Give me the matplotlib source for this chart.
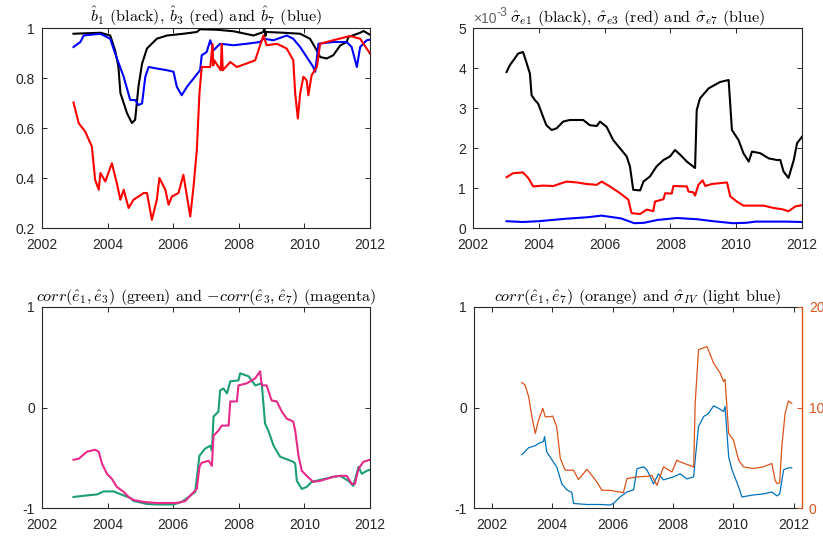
import matplotlib
matplotlib.use("Agg")
import matplotlib.pyplot as plt
import numpy as np

plt.rcParams['font.family'] = ['Liberation Sans', 'DejaVu Sans']
plt.rcParams['mathtext.fontset'] = 'cm'
plt.rcParams['axes.unicode_minus'] = False

# ---------------- data ----------------
# Panel 1: b1 (black), b3 (red), b7 (blue)
b1_t = [2002.96, 2003.78, 2004.08, 2004.23, 2004.33, 2004.39, 2004.59, 2004.74, 2004.84, 2004.94,
        2005.05, 2005.2, 2005.5, 2005.81, 2006.31, 2006.72, 2006.82, 2007.33, 2007.84, 2008.45,
        2008.75, 2008.78, 2008.81, 2008.84, 2009.36, 2009.87, 2010.17, 2010.38, 2010.48, 2010.68,
        2010.88, 2011.09, 2011.29, 2011.34, 2011.7, 2011.8, 2012.0]
b1_v = [0.977, 0.981, 0.97, 0.91, 0.845, 0.74, 0.66, 0.62, 0.633, 0.765,
        0.857, 0.918, 0.957, 0.97, 0.977, 0.984, 0.995, 0.993, 0.987, 0.97,
        0.984, 1.0, 0.968, 0.984, 0.981, 0.977, 0.957, 0.91, 0.884, 0.878,
        0.891, 0.93, 0.944, 0.964, 0.981, 0.988, 0.973]

b7_t = [2002.96, 2003.17, 2003.27, 2003.78, 2004.08, 2004.23, 2004.49, 2004.69, 2004.84, 2004.94,
        2005.05, 2005.15, 2005.25, 2005.5, 2005.81, 2006.01, 2006.11, 2006.26, 2006.42, 2006.62,
        2006.82, 2006.87, 2007.02, 2007.13, 2007.23, 2007.43, 2007.84, 2008.24, 2008.65, 2008.75,
        2009.06, 2009.46, 2009.66, 2009.87, 2010.07, 2010.27, 2010.33, 2010.43, 2010.88, 2011.29,
        2011.44, 2011.6, 2011.7, 2011.9, 2012.0]
b7_v = [0.924, 0.944, 0.97, 0.977, 0.957, 0.898, 0.805, 0.712, 0.712, 0.692,
        0.698, 0.805, 0.844, 0.838, 0.831, 0.825, 0.765, 0.731, 0.765, 0.798,
        0.831, 0.891, 0.904, 0.951, 0.911, 0.937, 0.931, 0.937, 0.944, 0.957,
        0.951, 0.97, 0.957, 0.924, 0.884, 0.844, 0.825, 0.937, 0.944, 0.944,
        0.924, 0.844, 0.924, 0.951, 0.953]

b3_t = [2002.96, 2003.12, 2003.32, 2003.52, 2003.62, 2003.73, 2003.78, 2003.93, 2004.13, 2004.28,
        2004.39, 2004.49, 2004.64, 2004.79, 2004.94, 2005.1, 2005.2, 2005.35, 2005.5, 2005.58,
        2005.76, 2005.86, 2005.96, 2006.16, 2006.31, 2006.42, 2006.52, 2006.62, 2006.72, 2006.8,
        2006.87, 2007.13, 2007.2, 2007.22, 2007.25, 2007.45, 2007.48, 2007.51, 2007.74, 2007.94,
        2008.24, 2008.5, 2008.6, 2008.75, 2008.85, 2009.16, 2009.46, 2009.66, 2009.72, 2009.8,
        2009.87, 2009.97, 2010.07, 2010.12, 2010.22, 2010.38, 2010.48, 2010.88, 2011.39, 2011.7,
        2012.0]
b3_v = [0.702, 0.619, 0.585, 0.526, 0.393, 0.353, 0.42, 0.386, 0.459, 0.38,
        0.313, 0.353, 0.28, 0.313, 0.326, 0.34, 0.34, 0.233, 0.313, 0.4,
        0.353, 0.293, 0.326, 0.34, 0.413, 0.326, 0.246, 0.366, 0.512, 0.738,
        0.844, 0.844, 0.936, 0.85, 0.871, 0.831, 0.936, 0.831, 0.864, 0.844,
        0.858, 0.871, 0.911, 0.97, 0.931, 0.937, 0.918, 0.871, 0.738, 0.638,
        0.738, 0.805, 0.791, 0.731, 0.811, 0.844, 0.937, 0.951, 0.968, 0.957,
        0.898]

# Panel 2: sigma_e1 (black), sigma_e3 (red), sigma_e7 (blue), units 1e-3
s1_t = [2003.02, 2003.12, 2003.27, 2003.37, 2003.52, 2003.62, 2003.73, 2003.78, 2003.88, 2003.98,
        2004.13, 2004.23, 2004.39, 2004.54, 2004.74, 2004.94, 2005.15, 2005.35, 2005.55, 2005.76,
        2005.86, 2006.06, 2006.26, 2006.47, 2006.67, 2006.77, 2006.87, 2007.08, 2007.18, 2007.38,
        2007.58, 2007.79, 2007.99, 2008.14, 2008.3, 2008.5, 2008.75, 2008.8, 2008.9, 2009.16,
        2009.51, 2009.77, 2009.87, 2010.07, 2010.22, 2010.38, 2010.48, 2010.73, 2010.99, 2011.24,
        2011.34, 2011.44, 2011.59, 2011.75, 2011.85, 2012.0]
s1_v = [3.9, 4.07, 4.24, 4.36, 4.4, 4.15, 3.86, 3.32, 3.2, 3.11,
        2.78, 2.57, 2.45, 2.49, 2.66, 2.7, 2.7, 2.7, 2.57, 2.55,
        2.66, 2.53, 2.2, 1.99, 1.79, 1.54, 0.955, 0.94, 1.16, 1.29,
        1.54, 1.7, 1.79, 1.95, 1.83, 1.66, 1.5, 2.95, 3.24, 3.49,
        3.65, 3.7, 2.45, 2.2, 1.87, 1.66, 1.91, 1.87, 1.74, 1.7,
        1.7, 1.41, 1.25, 1.7, 2.12, 2.28]

s3_t = [2003.02, 2003.22, 2003.52, 2003.68, 2003.83, 2004.13, 2004.44, 2004.84, 2005.15, 2005.45,
        2005.76, 2005.91, 2006.16, 2006.47, 2006.72, 2006.82, 2007.08, 2007.28, 2007.48, 2007.53,
        2007.79, 2007.84, 2008.04, 2008.09, 2008.5, 2008.55, 2008.7, 2008.75, 2008.85, 2008.98,
        2009.06, 2009.26, 2009.72, 2009.82, 2010.02, 2010.22, 2010.53, 2010.83, 2011.14, 2011.39,
        2011.59, 2011.8, 2012.0]
s3_v = [1.27, 1.37, 1.39, 1.25, 1.04, 1.06, 1.05, 1.16, 1.14, 1.1,
        1.08, 1.16, 1.04, 0.87, 0.71, 0.37, 0.35, 0.46, 0.42, 0.66,
        0.72, 0.87, 0.86, 1.05, 1.04, 0.91, 0.89, 0.81, 1.08, 1.19,
        1.05, 1.1, 1.14, 0.79, 0.66, 0.56, 0.56, 0.56, 0.5, 0.47,
        0.42, 0.54, 0.57]

s7_t = [2003.02, 2003.5, 2004.0, 2004.8, 2005.5, 2005.9, 2006.5, 2006.9, 2007.2, 2007.6,
        2008.2, 2008.8, 2009.3, 2009.9, 2010.3, 2010.6, 2011.5, 2012.0]
s7_v = [0.17, 0.15, 0.17, 0.23, 0.27, 0.31, 0.24, 0.12, 0.13, 0.2,
        0.25, 0.22, 0.17, 0.12, 0.13, 0.16, 0.16, 0.15]

# Panel 3: corr(e1,e3) (green) and -corr(e3,e7) (magenta)
mg_t = [2002.96, 2003.12, 2003.37, 2003.62, 2003.73, 2003.83, 2003.98, 2004.13, 2004.28, 2004.49,
        2004.64, 2004.79, 2005.1, 2005.5, 2005.81, 2006.11, 2006.37, 2006.57, 2006.72, 2006.8,
        2006.87, 2007.08, 2007.18, 2007.23, 2007.38, 2007.48, 2007.69, 2007.74, 2007.94, 2007.99,
        2008.24, 2008.5, 2008.65, 2008.7, 2008.85, 2009.0, 2009.16, 2009.31, 2009.46, 2009.66,
        2009.72, 2009.82, 2009.92, 2010.07, 2010.27, 2010.48, 2010.88, 2011.09, 2011.29, 2011.44,
        2011.54, 2011.65, 2011.8, 2012.0]
mg_v = [-0.52, -0.51, -0.44, -0.42, -0.44, -0.56, -0.66, -0.71, -0.79, -0.84,
        -0.89, -0.92, -0.94, -0.95, -0.95, -0.95, -0.93, -0.86, -0.81, -0.59,
        -0.55, -0.53, -0.58, -0.28, -0.23, -0.18, -0.18, 0.06, 0.06, 0.22,
        0.24, 0.29, 0.36, 0.22, 0.22, 0.07, 0.06, -0.04, -0.11, -0.14,
        -0.23, -0.48, -0.63, -0.68, -0.74, -0.73, -0.69, -0.68, -0.68, -0.76,
        -0.76, -0.61, -0.54, -0.52]

gr_t = [2002.96, 2003.37, 2003.68, 2003.88, 2004.18, 2004.49, 2004.69, 2004.79, 2005.2, 2005.5,
        2006.01, 2006.26, 2006.47, 2006.67, 2006.8, 2006.97, 2007.13, 2007.18, 2007.23, 2007.38,
        2007.43, 2007.53, 2007.64, 2007.74, 2007.99, 2008.04, 2008.3, 2008.5, 2008.7, 2008.8,
        2008.9, 2009.06, 2009.26, 2009.66, 2009.72, 2009.77, 2009.92, 2010.07, 2010.22, 2010.48,
        2010.88, 2011.09, 2011.34, 2011.49, 2011.65, 2011.75, 2011.9, 2012.0]
gr_v = [-0.89, -0.875, -0.865, -0.835, -0.835, -0.875, -0.9, -0.93, -0.96, -0.965,
        -0.965, -0.94, -0.89, -0.84, -0.48, -0.41, -0.38, -0.43, -0.09, -0.04,
        0.17, 0.19, 0.14, 0.26, 0.27, 0.34, 0.31, 0.22, 0.24, -0.16,
        -0.23, -0.38, -0.49, -0.54, -0.56, -0.73, -0.81, -0.79, -0.74, -0.72,
        -0.69, -0.68, -0.73, -0.78, -0.59, -0.66, -0.63, -0.62]

# Panel 4: corr(e1,e7) (left axis) and sigma_IV (right axis)
c17_t = [2002.99, 2003.1, 2003.22, 2003.44, 2003.6, 2003.71, 2003.75, 2003.82, 2003.99, 2004.15,
         2004.32, 2004.49, 2004.65, 2004.71, 2005.15, 2005.59, 2005.92, 2006.03, 2006.25, 2006.48,
         2006.7, 2006.81, 2007.03, 2007.14, 2007.36, 2007.52, 2007.69, 2008.02, 2008.24, 2008.46,
         2008.69, 2008.74, 2008.85, 2009.02, 2009.18, 2009.35, 2009.51, 2009.68, 2009.73, 2009.85,
         2009.96, 2010.18, 2010.29, 2010.67, 2011.0, 2011.28, 2011.45, 2011.54, 2011.67, 2011.83,
         2011.94]
c17_v = [-0.47, -0.44, -0.4, -0.38, -0.35, -0.34, -0.29, -0.44, -0.52, -0.59,
         -0.76, -0.82, -0.845, -0.955, -0.965, -0.965, -0.97, -0.955, -0.89, -0.84,
         -0.82, -0.61, -0.59, -0.62, -0.76, -0.66, -0.72, -0.69, -0.66, -0.71,
         -0.69, -0.52, -0.19, -0.09, -0.06, 0.017, -0.007, -0.04, 0.01, -0.49,
         -0.62, -0.79, -0.89, -0.87, -0.86, -0.84, -0.88, -0.86, -0.62, -0.6,
         -0.6]

iv_t = [2002.99, 2003.1, 2003.22, 2003.33, 2003.44, 2003.55, 2003.69, 2003.77, 2003.93, 2004.02,
        2004.15, 2004.27, 2004.43, 2004.71, 2004.87, 2005.04, 2005.15, 2005.31, 2005.48, 2005.65,
        2005.92, 2006.2, 2006.36, 2006.48, 2006.81, 2007.19, 2007.3, 2007.47, 2007.69, 2007.97,
        2008.13, 2008.24, 2008.69, 2008.74, 2008.85, 2009.13, 2009.35, 2009.57, 2009.68, 2009.73,
        2009.85, 2010.01, 2010.18, 2010.34, 2010.67, 2010.99, 2011.28, 2011.39, 2011.45, 2011.54,
        2011.61, 2011.72, 2011.83, 2011.94]
iv_v = [12.48, 12.25, 11.08, 9.08, 7.42, 8.75, 9.92, 9.08, 9.08, 9.15,
        8.09, 4.93, 3.76, 3.76, 2.83, 3.43, 3.86, 3.26, 2.6, 1.76,
        1.76, 1.6, 1.53, 2.93, 3.09, 3.16, 3.26, 2.26, 4.09, 3.59,
        4.76, 4.59, 4.09, 10.42, 15.74, 16.07, 14.41, 13.41, 12.58, 12.81,
        7.42, 6.76, 4.76, 4.09, 3.93, 4.09, 4.43, 2.76, 2.43, 2.5,
        6.09, 9.42, 10.65, 10.42]

year_ticks = [2002, 2004, 2006, 2008, 2010, 2012]

# ---------------- figure ----------------
W, H = 823, 541
fig = plt.figure(figsize=(W / 100, H / 100), dpi=100)
AX = '#262626'


def rect(l, t, r, b):
    return [l / W, 1 - b / H, (r - l) / W, (b - t) / H]


def style(ax, right=True):
    for s in ax.spines.values():
        s.set_color(AX)
        s.set_linewidth(0.8)
    ax.tick_params(direction='in', length=3.5, width=0.7, colors=AX, labelcolor=AX,
                   labelsize=10, top=True, right=right)
    ax.tick_params(axis='x', pad=7)
    ax.tick_params(axis='y', pad=5)


TF = dict(family='cmr10', fontsize=11.6, color='black', pad=4)

# Panel 1
ax1 = fig.add_axes(rect(42, 28, 370, 228))
ax1.plot(b1_t, b1_v, color='k', lw=1.5)
ax1.plot(b7_t, b7_v, color='#0000FF', lw=1.5)
ax1.plot(b3_t, b3_v, color='#FF0000', lw=1.5)
ax1.set_xlim(2002, 2012)
ax1.set_ylim(0.2, 1)
ax1.set_xticks(year_ticks)
ax1.set_yticks([0.2, 0.4, 0.6, 0.8, 1.0])
ax1.set_yticklabels(['0.2', '0.4', '0.6', '0.8', '1'])
style(ax1)
ax1.set_title(r"$\hat{b}_1$ (black), $\hat{b}_3$ (red) and $\hat{b}_7$ (blue)", **TF)

# Panel 2
ax2 = fig.add_axes(rect(473, 28, 802, 228))
ax2.plot(s1_t, s1_v, color='k', lw=1.5)
ax2.plot(s3_t, s3_v, color='#FF0000', lw=1.5)
ax2.plot(s7_t, s7_v, color='#0000FF', lw=1.5)
ax2.set_xlim(2002, 2012)
ax2.set_ylim(0, 5)
ax2.set_xticks(year_ticks)
ax2.set_yticks([0, 1, 2, 3, 4, 5])
style(ax2)
ax2.set_title(r"$\hat{\sigma}_{e1}$ (black), $\hat{\sigma}_{e3}$ (red) and $\hat{\sigma}_{e7}$ (blue)",
              **TF)
ax2.text(0.0, 1.012, '×10', transform=ax2.transAxes, fontsize=10, color='#606060',
         ha='left', va='bottom')
ax2.text(0.07, 1.045, '-3', transform=ax2.transAxes, fontsize=9, color='#606060',
         ha='left', va='bottom')

# Panel 3
ax3 = fig.add_axes(rect(42, 307, 370, 508))
ax3.plot(gr_t, gr_v, color='#1B9E77', lw=1.5)
ax3.plot(mg_t, mg_v, color='#E7298A', lw=1.5)
ax3.set_xlim(2002, 2012)
ax3.set_ylim(-1, 1)
ax3.set_xticks(year_ticks)
ax3.set_yticks([-1, 0, 1])
ax3.set_yticklabels(['-1', '0', '1'])
style(ax3)
ax3.set_title(r"$corr(\hat{e}_1,\hat{e}_3)$ (green) and $-corr(\hat{e}_3,\hat{e}_7)$ (magenta)", **TF)

# Panel 4
OR = '#D95319'
ax4 = fig.add_axes(rect(474, 307, 802, 508))
ax4.plot(c17_t, c17_v, color='#0072BD', lw=0.9)
ax4.set_xlim(2001.41, 2012.28)
ax4.set_ylim(-1, 1)
ax4.set_xticks(year_ticks)
ax4.set_yticks([-1, 0, 1])
ax4.set_yticklabels(['-1', '0', '1'])
style(ax4, right=False)
ax4.spines['right'].set_visible(False)
ax4b = ax4.twinx()
ax4b.plot(iv_t, iv_v, color=OR, lw=0.9)
ax4b.set_ylim(0, 20)
ax4b.set_yticks([0, 10, 20])
for s in ['left', 'top', 'bottom']:
    ax4b.spines[s].set_visible(False)
ax4b.spines['right'].set_color(OR)
ax4b.spines['right'].set_linewidth(1.0)
ax4b.tick_params(axis='y', direction='in', length=3.5, width=0.7, colors=OR,
                 labelcolor=OR, labelsize=10, pad=5)
ax4.set_title(r"$corr(\hat{e}_1,\hat{e}_7)$ (orange) and $\hat{\sigma}_{IV}$ (light blue)", **TF)

fig.savefig('out.png', dpi=100)
